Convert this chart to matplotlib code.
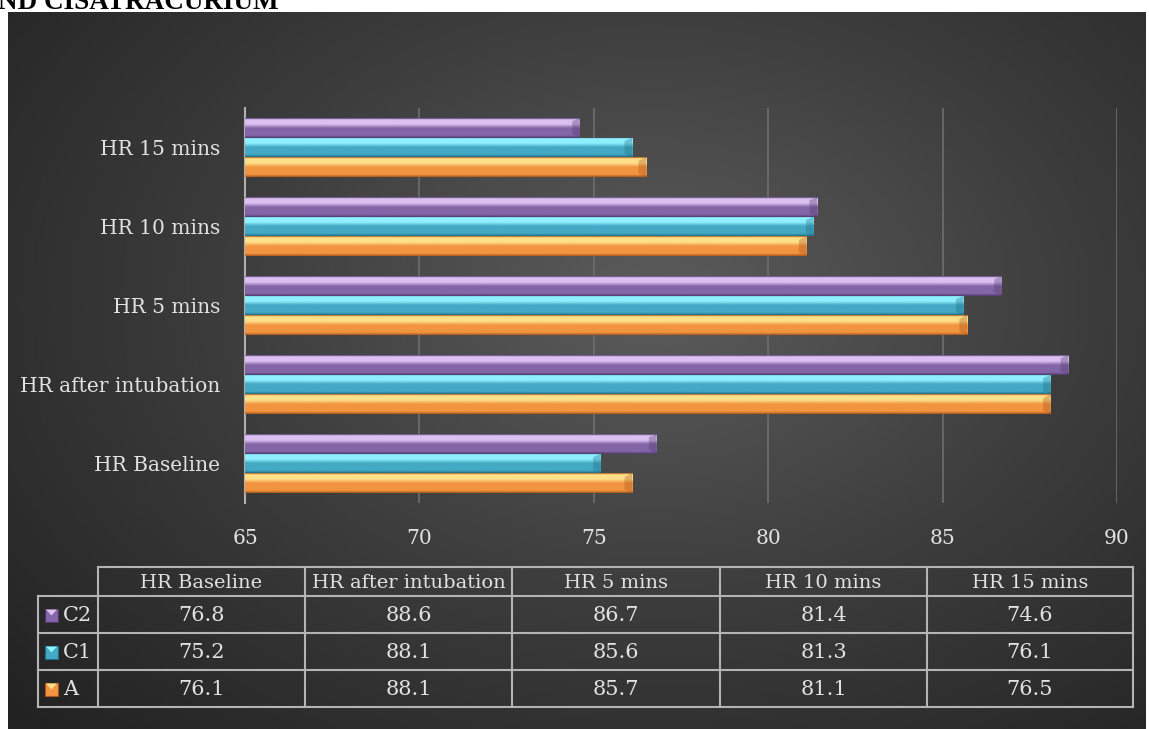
import numpy as np
import matplotlib.pyplot as plt
from matplotlib.colors import LinearSegmentedColormap

# Dados do gráfico
categorias = ['HR Baseline', 'HR after intubation', 'HR 5 mins', 'HR 10 mins', 'HR 15 mins']
series = ['C2', 'C1', 'A']
valores_c2 = [76.8, 88.6, 86.7, 81.4, 74.6]
valores_c1 = [75.2, 88.1, 85.6, 81.3, 76.1]
valores_a = [76.1, 88.1, 85.7, 81.1, 76.5]
ticks_x = [65, 70, 75, 80, 85, 90]

# cores (escuro, claro, base)
cores = {
    'C2': ('#4e3a6a', '#dcc0f2', '#8466a8'),
    'C1': ('#1f6f84', '#8ff0ff', '#44a9c4'),
    'A': ('#a8581c', '#ffe08a', '#f29440'),
}

W, H = 1149, 729
fig = plt.figure(figsize=(W / 100, H / 100), dpi=100)
fig.patch.set_facecolor('white')
fonte = 'DejaVu Serif'
cor_txt = '#e2e2e2'

# fundo escuro com gradiente
bg = fig.add_axes([8 / W, 0, (1146 - 8) / W, 1 - 12 / H])
yy, xx = np.mgrid[0:200, 0:300]
r = np.sqrt(((xx - 170) / 230.0) ** 2 + ((yy - 80) / 170.0) ** 2)
cmap_bg = LinearSegmentedColormap.from_list('bg', ['#5c5c5c', '#3c3c3c', '#222222'])
bg.imshow(np.clip(r, 0, 1), cmap=cmap_bg, aspect='auto', vmin=0, vmax=1)
bg.axis('off')

# eixo das barras
top, bottom = 108, 503
ax = fig.add_axes([245 / W, 1 - bottom / H, (1117 - 245) / W, (bottom - top) / H])
ax.set_facecolor('none')

pos = np.arange(len(categorias))
h = 0.25
offs = {'C2': h, 'C1': 0, 'A': -h}
dados = {'C2': valores_c2, 'C1': valores_c1, 'A': valores_a}
grad = np.linspace(0, 1, 64).reshape(-1, 1)

for s in series:
    escuro, claro, base = cores[s]
    cm = LinearSegmentedColormap.from_list(
        s, [(0, escuro), (0.07, claro), (0.3, claro), (0.5, base), (0.88, base), (1, escuro)])
    bars = ax.barh(pos + offs[s], np.array(dados[s]) - 65, left=65, height=h,
                   color=base, edgecolor='none', zorder=3)
    for p in bars:
        x0, y0, w, hh = p.get_x(), p.get_y(), p.get_width(), p.get_height()
        im = ax.imshow(grad, cmap=cm, aspect='auto', extent=(x0, x0 + w, y0, y0 + hh),
                       zorder=4, interpolation='bilinear')
        im.set_clip_path(p)
        # chanfro na ponta da barra
        d = 0.22
        ax.fill([x0 + w - d, x0 + w, x0 + w, x0 + w - d],
                [y0 + hh * 0.82, y0 + hh, y0, y0 + hh * 0.18],
                color=escuro, alpha=0.35, lw=0, zorder=5)

ax.set_xlim(65, 90)
ax.set_ylim(-0.5, 4.5)
ax.set_xticks(ticks_x)
ax.set_yticks(pos)
ax.set_yticklabels(categorias)
ax.grid(axis='x', color='#6e6e6e', linewidth=1.2, zorder=0)
for sp in ['top', 'right', 'bottom']:
    ax.spines[sp].set_visible(False)
ax.spines['left'].set_color('#b0b0b0')
ax.spines['left'].set_linewidth(1.5)
ax.tick_params(axis='both', length=0, labelsize=14.5)
ax.tick_params(axis='x', pad=19)
ax.tick_params(axis='y', pad=18)
for t in ax.get_xticklabels() + ax.get_yticklabels():
    t.set_fontfamily(fonte)
    t.set_color(cor_txt)

# tabela de dados
ov = fig.add_axes([0, 0, 1, 1])
ov.set_xlim(0, W)
ov.set_ylim(H, 0)
ov.axis('off')

colx = [98, 305, 512, 720, 927, 1133]
rowy = [567, 596, 633, 670, 707]
lc = '#b4b4b4'
lw = 1.5
ov.plot([colx[0], colx[-1]], [rowy[0], rowy[0]], color=lc, lw=lw)
for y in rowy[1:]:
    ov.plot([38, colx[-1]], [y, y], color=lc, lw=lw)
ov.plot([38, 38], [rowy[1], rowy[-1]], color=lc, lw=lw)
for x in colx:
    ov.plot([x, x], [rowy[0], rowy[-1]], color=lc, lw=lw)

for i, c in enumerate(categorias):
    ov.text((colx[i] + colx[i + 1]) / 2, (rowy[0] + rowy[1]) / 2 + 1, c, ha='center', va='center',
            color=cor_txt, fontsize=14, family=fonte)
for j, s in enumerate(series):
    yc = (rowy[j + 1] + rowy[j + 2]) / 2
    escuro, claro, base = cores[s]
    ov.add_patch(plt.Rectangle((45, yc - 6), 13, 13, facecolor=base, edgecolor=escuro, lw=0.8))
    ov.add_patch(plt.Polygon([(46, yc - 5), (57, yc - 5), (51.5, yc + 1)], facecolor=claro, edgecolor='none'))
    ov.text(63, yc + 1, s, ha='left', va='center', color=cor_txt, fontsize=15, family=fonte)
    for i, v in enumerate(dados[s]):
        ov.text((colx[i] + colx[i + 1]) / 2, yc + 1, f'{v:.1f}', ha='center', va='center',
                color=cor_txt, fontsize=15, family=fonte)

# título cortado no topo
fig.text(-2 / W, 1 - 9 / H, 'ND CISATRACURIUM', ha='left', va='baseline', fontsize=19.5,
         fontweight='bold', family='Liberation Serif', color='black')

fig.savefig('out.png', dpi=100, facecolor='white')
